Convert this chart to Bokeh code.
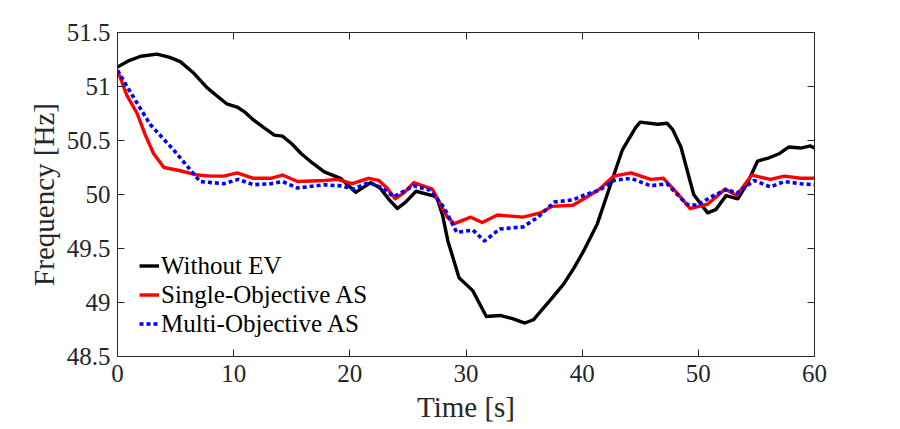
from bokeh.plotting import figure
from bokeh.models import Range1d, FixedTicker, LinearAxis, NumeralTickFormatter, Legend, LegendItem
from bokeh.embed import file_html
from bokeh.resources import INLINE

# ---- data ----
t_without = [0, 1, 2, 3.4, 4.5, 5.4, 6.5, 7.7, 8.6, 9.4, 10.3, 11, 11.7, 12.6, 13.5, 14.2, 15, 15.8,
             16.8, 17.8, 19.2, 20.5, 21.8, 22.6, 23.4, 24.1, 24.8, 25.7, 27.1, 27.5, 28.0, 28.44,
             29.4, 30.58, 31.75, 32.93, 34, 35.07, 35.8, 36.44, 37.4, 38.4, 39.3, 40.14, 41.31,
             42.28, 43.45, 44.6, 45.0, 46.5, 47.3, 47.8, 48.5, 49.6, 50.8, 51.5, 52.4, 53.4, 54.2,
             55.1, 56.1, 57.0, 57.8, 58.8, 59.65, 60]
f_without = [51.18, 51.24, 51.28, 51.30, 51.27, 51.23, 51.13, 50.99, 50.91, 50.84, 50.81, 50.76,
             50.69, 50.62, 50.55, 50.54, 50.47, 50.38, 50.29, 50.21, 50.15, 50.02, 50.11, 50.06,
             49.95, 49.87, 49.93, 50.03, 49.99, 49.97, 49.80, 49.57, 49.23, 49.11, 48.87, 48.88,
             48.85, 48.81, 48.84, 48.92, 49.04, 49.17, 49.32, 49.48, 49.73, 50.04, 50.41, 50.62,
             50.67, 50.65, 50.66, 50.60, 50.44, 50.00, 49.83, 49.86, 49.99, 49.96, 50.10, 50.31,
             50.34, 50.38, 50.44, 50.43, 50.45, 50.43]

t_single = [0, 0.8, 1.69, 2.4, 3.1, 4.0, 5.4, 6.9, 8, 9.15, 10.3, 11.7, 13.2, 14.2, 15.5, 17.8, 18.9,
            20.2, 21.6, 22.5, 23.2, 23.9, 24.7, 25.5, 27.1, 28.4, 29.0, 30.4, 31.4, 32.7, 34.9,
            36.4, 37.4, 39.2, 40.3, 41.5, 42.7, 44.2, 45.9, 47.0, 48.2, 49.3, 50.8, 52.3, 53.3,
            54.6, 56.2, 57.4, 58.8, 60]
f_single = [51.15, 50.92, 50.75, 50.55, 50.38, 50.25, 50.22, 50.18, 50.17, 50.17, 50.20, 50.15,
            50.15, 50.18, 50.12, 50.13, 50.14, 50.10, 50.15, 50.13, 50.06, 49.96, 50.02, 50.11,
            50.05, 49.79, 49.73, 49.79, 49.74, 49.81, 49.79, 49.83, 49.89, 49.90, 49.97, 50.05,
            50.17, 50.20, 50.14, 50.15, 50.01, 49.87, 49.91, 50.05, 49.99, 50.18, 50.14, 50.17,
            50.15, 50.15]

t_multi = [0, 1.1, 2.8, 4.85, 6.1, 7.1, 9.15, 10.4, 11.7, 13.2, 14.2, 15.5, 17.8, 19.2, 20.3, 21.6,
           22.6, 23.8, 25.5, 26.9, 28.1, 29.2, 30.6, 31.6, 32.9, 34.9, 36.2, 37.6, 39.2, 40.3,
           41.5, 42.7, 44.2, 45.9, 47.3, 49.0, 49.9, 51.3, 52.5, 53.3, 54.8, 56.2, 57.4, 58.8, 60]
f_multi = [51.15, 50.95, 50.65, 50.41, 50.25, 50.12, 50.10, 50.14, 50.09, 50.10, 50.12, 50.06,
           50.09, 50.08, 50.05, 50.11, 50.07, 49.98, 50.08, 50.04, 49.88, 49.65, 49.67, 49.57,
           49.68, 49.70, 49.79, 49.93, 49.95, 50.00, 50.04, 50.13, 50.15, 50.08, 50.10, 49.91,
           49.90, 49.99, 50.05, 50.01, 50.13, 50.07, 50.12, 50.10, 50.09]

x_ticks = [0, 10, 20, 30, 40, 50, 60]
y_ticks = [48.5, 49, 49.5, 50, 50.5, 51, 51.5]
series_labels = ["Without EV", "Single-Objective AS", "Multi-Objective AS"]

FONT = "Liberation Serif"
AXIS_COLOR = "#262626"

p = figure(frame_width=697, frame_height=324,
           min_border_left=117, min_border_top=32, min_border_right=60, min_border_bottom=72,
           x_range=Range1d(0, 60), y_range=Range1d(48.5, 51.5),
           output_backend="svg", toolbar_location=None, background_fill_color="white")
p.grid.visible = False
p.outline_line_color = AXIS_COLOR
p.outline_line_width = 1

def style_axis(ax, ticks, show_labels):
    ax.ticker = FixedTicker(ticks=ticks)
    ax.major_tick_in = 7
    ax.major_tick_out = 0
    ax.minor_tick_line_color = None
    ax.axis_line_color = AXIS_COLOR
    ax.major_tick_line_color = AXIS_COLOR
    ax.major_label_text_font = FONT
    if show_labels:
        ax.major_label_text_font_size = "25px"
        ax.major_label_text_color = "#262626"
    else:
        ax.major_label_text_font_size = "1px"
        ax.major_label_text_color = None
        ax.major_label_standoff = 0

style_axis(p.xaxis[0], x_ticks, True)
style_axis(p.yaxis[0], y_ticks, True)
p.yaxis[0].formatter = NumeralTickFormatter(format="0.[0]")
p.xaxis[0].major_label_standoff = 8
p.yaxis[0].major_label_standoff = 7

p.xaxis.axis_label = "Time [s]"
p.yaxis.axis_label = "Frequency [Hz]"
for ax in (p.xaxis[0], p.yaxis[0]):
    ax.axis_label_text_font = FONT
    ax.axis_label_text_font_size = "29px"
    ax.axis_label_text_font_style = "normal"
    ax.axis_label_text_color = "#262626"
p.yaxis[0].axis_label_standoff = 4
p.xaxis[0].axis_label_standoff = 6

top = LinearAxis()
style_axis(top, x_ticks, False)
p.add_layout(top, "above")
right = LinearAxis()
style_axis(right, y_ticks, False)
p.add_layout(right, "right")

r1 = p.line(t_without, f_without, line_color="black", line_width=3.4, line_join="round")
r2 = p.line(t_single, f_single, line_color="#ff0000", line_width=3.4, line_join="round")
r3 = p.line(t_multi, f_multi, line_color="#0000ff", line_width=3.6, line_dash="4 3",
            line_join="round")

legend = Legend(items=[LegendItem(label=series_labels[0], renderers=[r1]),
                       LegendItem(label=series_labels[1], renderers=[r2]),
                       LegendItem(label=series_labels[2], renderers=[r3])],
                location=(22, 18))
legend.border_line_color = None
legend.background_fill_alpha = 0
legend.padding = 0
legend.margin = 0
legend.spacing = 0
legend.glyph_width = 20
legend.glyph_height = 29
legend.label_height = 29
legend.label_standoff = 2
legend.label_text_font = FONT
legend.label_text_font_size = "25px"
legend.label_text_color = "black"
p.add_layout(legend, "center")

open("out.html", "w").write(file_html(p, INLINE))
